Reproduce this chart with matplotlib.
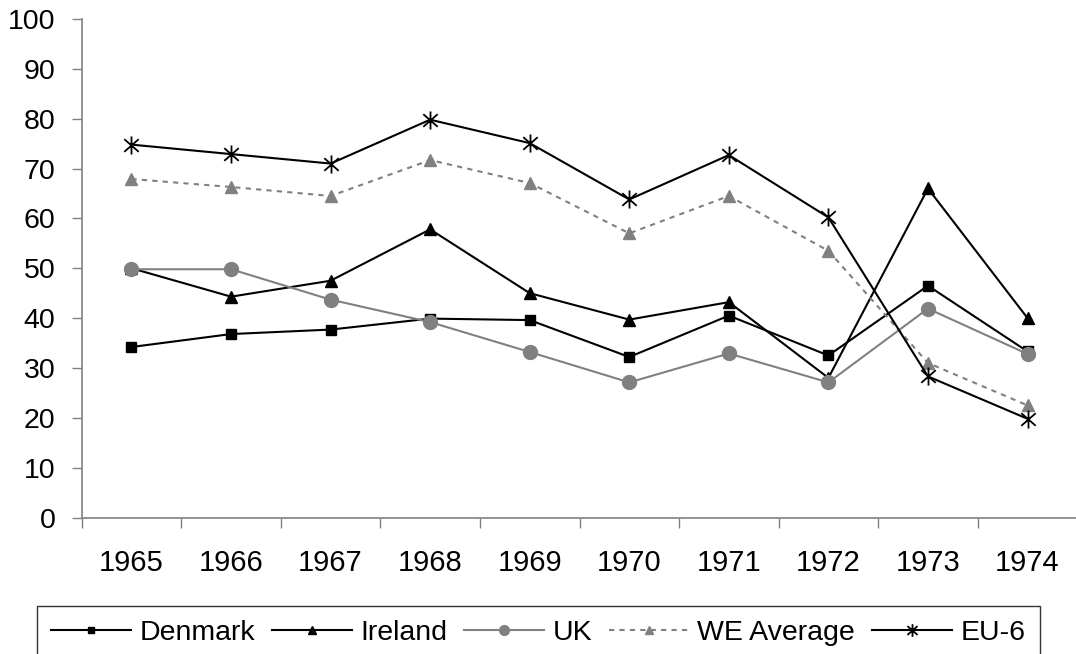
import matplotlib
matplotlib.use("Agg")
import matplotlib.pyplot as plt
from matplotlib.path import Path

years = ["1965", "1966", "1967", "1968", "1969", "1970", "1971", "1972", "1973", "1974"]
denmark = [34.2, 36.8, 37.7, 39.9, 39.6, 32.2, 40.5, 32.5, 46.5, 33.3]
ireland = [50.0, 44.3, 47.5, 57.8, 45.0, 39.7, 43.2, 28.0, 66.0, 40.0]
uk = [49.8, 49.8, 43.7, 39.2, 33.2, 27.1, 32.9, 27.1, 41.9, 32.8]
we_average = [67.9, 66.3, 64.5, 71.7, 67.1, 57.0, 64.5, 53.5, 31.0, 22.5]
eu6 = [74.8, 72.9, 71.0, 79.8, 75.1, 63.8, 72.7, 60.2, 28.3, 19.8]

plt.rcParams['font.family'] = ['Liberation Sans', 'DejaVu Sans']

W, H = 1076, 654
fig = plt.figure(figsize=(W / 100, H / 100), dpi=100)
ax = fig.add_axes([81.7 / W, (H - 517.5) / H, 995.6 / W, (517.5 - 19) / H])

star = Path([(0, -1), (0, 1), (-0.8, -0.7), (0.8, 0.7), (-0.8, 0.7), (0.8, -0.7)],
            [Path.MOVETO, Path.LINETO, Path.MOVETO, Path.LINETO, Path.MOVETO, Path.LINETO])

gray = '#808080'
x = list(range(len(years)))
ax.plot(x, denmark, color='black', lw=1.5, marker='s', ms=7, mfc='black', mec='black', label='Denmark')
ax.plot(x, ireland, color='black', lw=1.5, marker='^', ms=9, mfc='black', mec='black', label='Ireland')
ax.plot(x, uk, color=gray, lw=1.5, marker='o', ms=10, mfc=gray, mec=gray, label='UK')
ax.plot(x, we_average, color=gray, lw=1.5, dashes=(2.5, 2.5), marker='^', ms=9, mfc=gray, mec=gray, label='WE Average')
ax.plot(x, eu6, color='black', lw=1.5, marker=star, ms=13, mew=1.3, mfc='black', mec='black', label='EU-6')

ax.set_xlim(-0.5, len(years) - 0.5)
ax.set_ylim(0, 100)
ax.set_yticks(range(0, 101, 10))
ax.set_xticks([i - 0.5 for i in range(len(years) + 1)])
ax.set_xticklabels([])
ax.set_xticks(x, minor=True)
ax.set_xticklabels(years, minor=True)
ax.tick_params(axis='x', which='major', length=7, width=1, color=gray, direction='out')
ax.tick_params(axis='x', which='minor', length=0, pad=23, labelsize=21)
ax.tick_params(axis='y', length=7, width=1, color=gray, direction='out', pad=12, labelsize=20.5)

for s in ['top', 'right']:
    ax.spines[s].set_visible(False)
for s in ['left', 'bottom']:
    ax.spines[s].set_color(gray)
    ax.spines[s].set_linewidth(1.2)

leg = fig.legend(loc='upper left', bbox_to_anchor=(36.7 / W, (H - 606) / H), borderaxespad=0,
                 ncol=5, fontsize=20.5, frameon=True, fancybox=False, edgecolor='black',
                 handlelength=2.8, handletextpad=0.3, columnspacing=0.6, borderpad=0.5,
                 markerscale=0.7)
leg.get_frame().set_linewidth(1.0)

fig.savefig('out.png', dpi=100)
